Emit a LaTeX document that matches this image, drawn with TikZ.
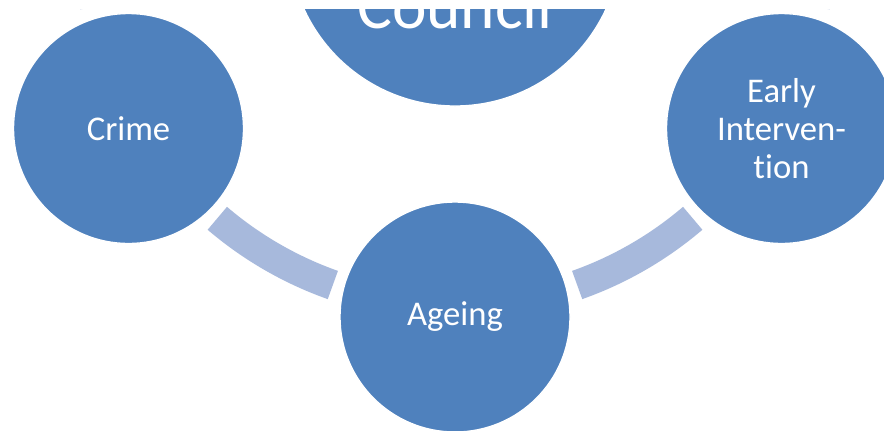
\documentclass[tikz,border=0pt]{standalone}
\usepackage{fontspec}
\setmainfont{Carlito}[Ligatures={NoCommon}]
\usetikzlibrary{calc}
\definecolor{hubblue}{HTML}{4F81BD}
\definecolor{ringblue}{HTML}{A7B9DC}
\tikzset{
  topic/.style={circle,fill=hubblue,draw=white,line width=1pt,minimum size=172.5pt,
    inner sep=0pt,text=white,align=center,font=\fontsize{26}{28.5}\selectfont},
  link/.style={ringblue,line width=22.5pt}
}
\begin{document}
\begin{tikzpicture}[x=.75pt,y=.75pt]
\useasboundingbox(0,0)rectangle(884,-430);
\fill[white](0,0)rectangle(884,-430);
\clip(0,-9)rectangle(884,-430);
\coordinate(hub)at(455,60);
\foreach \a in {180,240,300,360}
  \draw[link]($(hub)+(\a-10.5:366)$)arc[start angle=\a-10.5,delta angle=21,radius=274.5pt];
\node[topic,minimum size=249pt](council)at(hub){};
\node[text=white,anchor=base,font=\fontsize{49}{50}\selectfont](name)at($(hub)+(0,-88)$){Council};
\node[topic](crime)at($(hub)+(210:377)$){Crime};
\node[topic](ageing)at($(hub)+(270:377)$){Ageing};
\node[topic](early)at($(hub)+(330:377)$){Early\\Interven-\\tion};
\end{tikzpicture}
\end{document}
